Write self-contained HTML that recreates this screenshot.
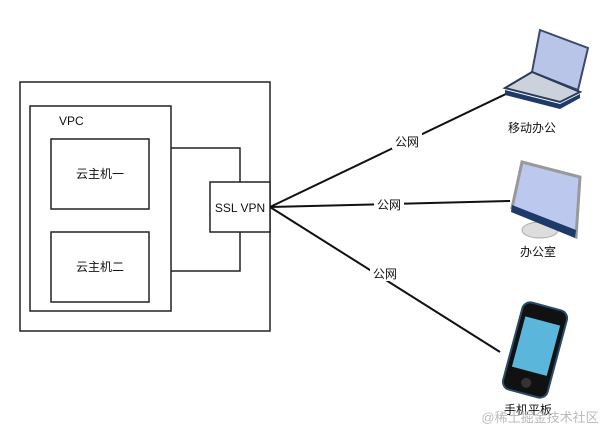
<!DOCTYPE html>
<html><head><meta charset="utf-8"><style>
body{margin:0;background:#fff}
svg{display:block}
text{font-family:"Liberation Sans","Noto Sans CJK SC",sans-serif;font-size:12px;fill:#111}
</style></head><body>
<svg width="610" height="438" viewBox="0 0 610 438">
<g fill="none" stroke="#222" stroke-width="1.5">
<rect x="20" y="82" width="250" height="249"/>
<rect x="30" y="106" width="141" height="205"/>
<rect x="51" y="139" width="98" height="70"/>
<rect x="51" y="232" width="98" height="70"/>
<rect x="210" y="182" width="60" height="50" fill="#fff"/>
<polyline points="171,148 240,148 240,182"/>
<polyline points="171,271 240,271 240,232"/>
</g>
<g stroke="#111" stroke-width="2">
<line x1="270" y1="207" x2="510" y2="92"/>
<line x1="270" y1="207" x2="510" y2="201"/>
<line x1="270" y1="207" x2="500" y2="352"/>
</g>
<g fill="#fff"><rect x="392" y="133" width="30" height="16"/><rect x="374" y="196" width="30" height="16"/><rect x="370" y="265" width="30" height="16"/></g>
<text x="59" y="125">VPC</text>
<text x="100" y="178" text-anchor="middle">云主机一</text>
<text x="100" y="271" text-anchor="middle">云主机二</text>
<text x="240" y="212" text-anchor="middle">SSL VPN</text>
<text x="407" y="146" text-anchor="middle">公网</text>
<text x="389" y="209" text-anchor="middle">公网</text>
<text x="385" y="278" text-anchor="middle">公网</text>
<!-- laptop -->
<polygon points="540,30 588,48 578,90 532,72" fill="#b8c4e8" stroke="#3a4a6a" stroke-width="2"/>
<polygon points="505,88 532,72 580,92 560,102" fill="#ccd2dc" stroke="#2a3a5a" stroke-width="2"/>
<polygon points="505,90 560,104 580,94 580,98 560,109 505,95" fill="#1e3a6a"/>
<text x="532" y="132" text-anchor="middle">移动办公</text>
<!-- monitor -->
<ellipse cx="540" cy="230" rx="18" ry="8" fill="#ddd" stroke="#aaa"/>
<polygon points="522,162 580,177 576,237 512,208" fill="#bcc8ee" stroke="#999" stroke-width="3"/>
<polygon points="512,205 576,230 575,238 511,212" fill="#1e3a6a"/>
<text x="538" y="256" text-anchor="middle">办公室</text>
<!-- phone -->
<g transform="rotate(15 535 350)">
<rect x="512" y="305" width="46" height="90" rx="8" fill="#111" stroke="#2a4a6a" stroke-width="2"/>
<rect x="517" y="320" width="36" height="52" fill="#5bb6dc"/>
<circle cx="535" cy="384" r="5" fill="#333"/>
</g>
<text x="528" y="414" text-anchor="middle">手机平板</text>
<text x="540" y="422" text-anchor="middle" style="fill:#bbb;font-size:13px">@稀土掘金技术社区</text>
</svg>
</body></html>
